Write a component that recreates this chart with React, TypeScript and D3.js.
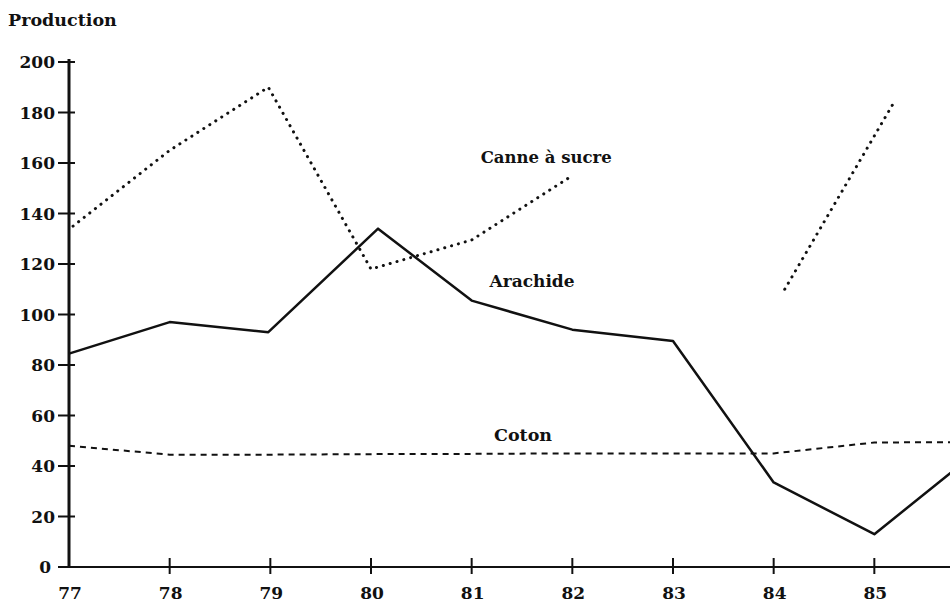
import React from "react";
import * as d3 from "d3";

const yearTicks = [77, 78, 79, 80, 81, 82, 83, 84, 85];
const valueTicks = [0, 20, 40, 60, 80, 100, 120, 140, 160, 180, 200];

const arachideYears = [77, 78, 78.98, 80.07, 81, 82, 83, 84, 85, 86];
const arachideValues = [84.5, 97, 93, 134, 105.5, 94, 89.5, 33.5, 13, 45];

const canneYears = [77.04, 78, 78.98, 80, 81, 82, 84.11, 85.18];
const canneValues = [135, 165, 190, 118, 129.5, 155, 110, 183];
const canneBreakAfter = 82;

const cotonYears = [77, 78, 79, 80, 81, 82, 83, 84, 85, 86];
const cotonValues = [48, 44.5, 44.5, 44.7, 44.8, 45, 45, 45, 49.3, 49.5];

const seriesLabels = [
  { text: "Canne à sucre", year: 81.74, value: 160, size: 16.5 },
  { text: "Arachide", year: 81.6, value: 111, size: 17 },
  { text: "Coton", year: 81.51, value: 50, size: 17.5 },
];

const W = 950;
const H = 604;
const FONT = "'DejaVu Serif', serif";

export default function App() {
  const x = d3.scaleLinear().domain([77, 86]).range([69, 975]);
  const y = d3.scaleLinear().domain([0, 200]).range([567, 62]);

  type P = { t: number; v: number };
  const line = d3
    .line<P>()
    .x((d) => x(d.t))
    .y((d) => y(d.v));

  const arachide = arachideYears.map((t, i) => ({ t, v: arachideValues[i] }));
  const coton = cotonYears.map((t, i) => ({ t, v: cotonValues[i] }));
  const canne = canneYears.map((t, i) => ({ t, v: canneValues[i] }));
  const canneA = canne.filter((d) => d.t <= canneBreakAfter);
  const canneB = canne.filter((d) => d.t > canneBreakAfter);

  return (
    <svg
      width={W}
      height={H}
      style={{ position: "absolute", left: 0, top: 0, background: "#fff" }}
    >
      <text x={8} y={26} fontFamily={FONT} fontWeight="bold" fontSize={17.5} fill="#111">
        Production
      </text>

      {/* y axis */}
      <line x1={x(77)} x2={x(77)} y1={y(200) - 3} y2={y(0)} stroke="#111" strokeWidth={3} />
      {valueTicks.map((v) => (
        <g key={v}>
          <line x1={x(77) - 11} x2={x(77) + 6} y1={y(v)} y2={y(v)} stroke="#111" strokeWidth={2} />
          <text
            x={v === 0 ? 51 : 55}
            y={y(v)}
            dy="0.36em"
            textAnchor="end"
            fontFamily={FONT}
            fontWeight="bold"
            fontSize={17}
            fill="#111"
          >
            {v}
          </text>
        </g>
      ))}

      {/* x axis */}
      <line x1={x(77)} x2={W} y1={y(0)} y2={y(0)} stroke="#111" strokeWidth={2} />
      {yearTicks.map((t) => (
        <g key={t}>
          {t > 77 && (
            <line x1={x(t)} x2={x(t)} y1={y(0) - 9} y2={y(0) + 7} stroke="#111" strokeWidth={2} />
          )}
          <text
            x={x(t) + 1}
            y={599}
            textAnchor="middle"
            fontFamily={FONT}
            fontWeight="bold"
            fontSize={17}
            fill="#111"
          >
            {t}
          </text>
        </g>
      ))}

      {/* series */}
      <path d={line(arachide) || ""} fill="none" stroke="#111" strokeWidth={2.5} strokeLinejoin="round" />
      <path
        d={line(coton) || ""}
        fill="none"
        stroke="#111"
        strokeWidth={2}
        strokeDasharray="6 5"
      />
      {[canneA, canneB].map((seg, i) => (
        <path
          key={i}
          d={line(seg) || ""}
          fill="none"
          stroke="#111"
          strokeWidth={3}
          strokeDasharray="0.1 7"
          strokeLinecap="round"
        />
      ))}

      {seriesLabels.map((l) => (
        <text
          key={l.text}
          x={x(l.year)}
          y={y(l.value)}
          textAnchor="middle"
          fontFamily={FONT}
          fontWeight="bold"
          fontSize={l.size}
          fill="#111"
        >
          {l.text}
        </text>
      ))}
    </svg>
  );
}
